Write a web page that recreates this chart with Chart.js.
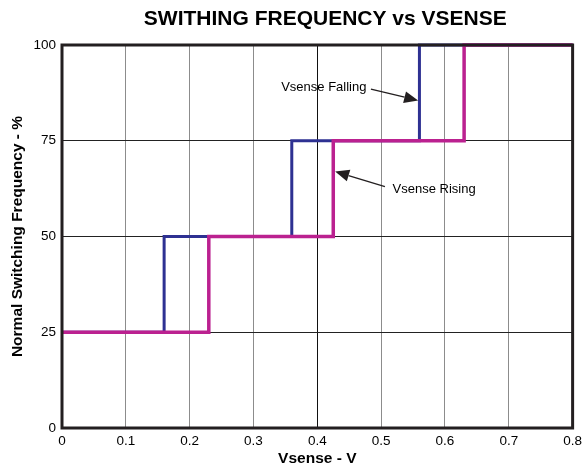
<!DOCTYPE html>
<html>
<head>
<meta charset="utf-8">
<script src="https://cdn.jsdelivr.net/npm/chart.js@4/dist/chart.umd.min.js"></script>
<style>
  html, body { margin: 0; padding: 0; background: #fff; }
  #wrap { width: 587px; height: 470px; }
</style>
</head>
<body>
<div id="wrap"><canvas id="myChart" width="587" height="470"></canvas></div>
<script>
// step points: value holds from previous x until this x, then jumps
var fallingX = [0, 0.16, 0.36, 0.56, 0.8];
var fallingY = [25, 50, 75, 100, 100];
var risingX = [0, 0.23, 0.425, 0.63, 0.8];
var risingY = [25, 50, 75, 100, 100];
var xTicks = [0, 0.1, 0.2, 0.3, 0.4, 0.5, 0.6, 0.7, 0.8];
var yTicks = [0, 25, 50, 75, 100];

function pts(xs, ys) {
    var out = [];
    for (var i = 0; i < xs.length; i++) out.push({x: xs[i], y: ys[i]});
    return out;
}

// callouts in data units
var notes = [
    {text: "Vsense Falling", tx: 0.477, ty: 89, align: "right", from: [0.484, 88.5], to: [0.558, 85.5]},
    {text: "Vsense Rising", tx: 0.518, ty: 62.3, align: "left", from: [0.506, 63], to: [0.428, 67]}
];

var FONT = "'Liberation Sans', Arial, sans-serif";
var ink = "#231f20";

function arrow(c, x1, y1, x2, y2) {
    var a = Math.atan2(y2 - y1, x2 - x1);
    var hl = 14, hw = 6;
    var bx = x2 - hl * Math.cos(a), by = y2 - hl * Math.sin(a);
    c.strokeStyle = ink;
    c.lineWidth = 1.3;
    c.beginPath();
    c.moveTo(x1, y1);
    c.lineTo(bx, by);
    c.stroke();
    c.fillStyle = ink;
    c.beginPath();
    c.moveTo(x2, y2);
    c.lineTo(bx - hw * Math.sin(a), by + hw * Math.cos(a));
    c.lineTo(bx + hw * Math.sin(a), by - hw * Math.cos(a));
    c.closePath();
    c.fill();
}

var extras = {
    id: "extras",
    afterDatasetsDraw: function(chart) {
        var c = chart.ctx, a = chart.chartArea;
        var xs = chart.scales.x, ys = chart.scales.y;
        c.save();
        // frame
        c.strokeStyle = ink;
        c.lineWidth = 3;
        c.strokeRect(a.left, a.top, a.right - a.left, a.bottom - a.top);
        // notes
        c.font = "13px " + FONT;
        c.textBaseline = "middle";
        notes.forEach(function(n) {
            c.fillStyle = "#000";
            c.textAlign = n.align;
            c.fillText(n.text, xs.getPixelForValue(n.tx), ys.getPixelForValue(n.ty));
            arrow(c, xs.getPixelForValue(n.from[0]), ys.getPixelForValue(n.from[1]),
                     xs.getPixelForValue(n.to[0]), ys.getPixelForValue(n.to[1]));
        });
        // title
        c.font = "bold 21px " + FONT;
        c.textAlign = "center";
        c.fillStyle = "#000";
        c.fillText("SWITHING FREQUENCY vs VSENSE", (a.left + a.right) / 2 + 8, 19);
        c.restore();
    }
};

var ctx = document.getElementById("myChart");
var myChart = new Chart(ctx, {
    type: "line",
    data: {
        datasets: [
        {
            label: "Vsense Rising",
            data: pts(risingX, risingY),
            stepped: "before",
            borderColor: "#bb2190",
            borderWidth: 3.5,
            pointRadius: 0,
            fill: false,
            clip: false,
            order: 1
        },
        {
            label: "Vsense Falling",
            data: pts(fallingX, fallingY),
            stepped: "before",
            borderColor: "#2e3192",
            borderWidth: 3,
            pointRadius: 0,
            fill: false,
            clip: false,
            order: 2
        }
        ]
    },
    options: {
        responsive: false,
        animation: false,
        layout: {padding: {top: 45, right: 13, left: 0, bottom: 0}},
        plugins: {
            legend: {display: false},
            title: {display: false},
            tooltip: {enabled: false}
        },
        scales: {
            x: {
                type: "linear",
                min: 0,
                max: 0.8,
                afterBuildTicks: function(s) { s.ticks = xTicks.map(function(v) { return {value: v}; }); },
                afterFit: function(s) { s.height = 42; },
                border: {display: false},
                grid: {
                    drawTicks: false,
                    lineWidth: 1,
                    color: function(c) { return c.tick && c.tick.value === 0.4 ? "#111" : "#8c8c8c"; }
                },
                ticks: {
                    padding: 5,
                    color: "#000",
                    font: {family: FONT, size: 13.5},
                    maxRotation: 0,
                    callback: function(v) { return v === 0 ? "0" : v.toFixed(1); }
                },
                title: {
                    display: true,
                    text: "Vsense - V",
                    color: "#000",
                    font: {family: FONT, size: 15.5, weight: "bold"},
                    padding: {top: 1, bottom: 2}
                }
            },
            y: {
                type: "linear",
                min: 0,
                max: 100,
                afterBuildTicks: function(s) { s.ticks = yTicks.map(function(v) { return {value: v}; }); },
                afterFit: function(s) { s.width = 62; },
                border: {display: false},
                grid: {drawTicks: false, lineWidth: 1, color: "#222"},
                ticks: {
                    padding: 6,
                    color: "#000",
                    font: {family: FONT, size: 13.5}
                },
                title: {
                    display: true,
                    text: "Normal Switching Frequency - %",
                    color: "#000",
                    font: {family: FONT, size: 15.5, weight: "bold"},
                    padding: {top: 8, bottom: 0}
                }
            }
        }
    },
    plugins: [extras]
});
</script>
</body>
</html>
